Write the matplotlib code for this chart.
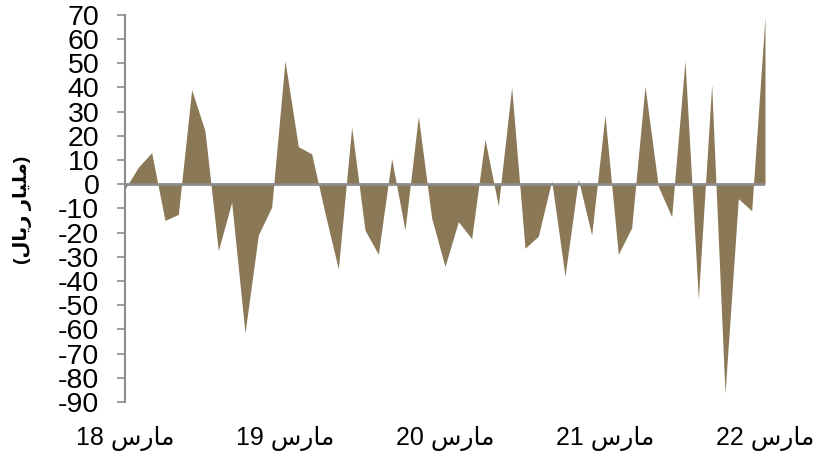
import matplotlib
matplotlib.use('Agg')
import matplotlib.pyplot as plt
import numpy as np

# ---- data (billion riyals, monthly, Mar 2018 .. Mar 2022) ----
values = [-2, 7, 13, -15, -12.5, 39, 22, -27.5, -7.5, -61.5,
          -21, -9.5, 51, 15.5, 12.5, -12, -35, 23.5, -19, -29,
          10.5, -19, 28, -14, -34, -15.5, -22.5, 18.5, -9, 40,
          -26.5, -21.5, 1.5, -38, 2, -21, 28.5, -29, -18, 40.5,
          -1, -13.5, 51, -47.5, 41, -86.5, -6, -11, 69]
tick_years = ["18", "19", "20", "21", "22"]
tick_labels = ["مارس " + y for y in tick_years]
y_label = "(مليار ريال)"
y_ticks = list(range(-90, 71, 10))

# ---- minimal Arabic shaping + visual ordering ----
FORMS = {  # isolated, final, initial, medial
    'ا': ('\uFE8D', '\uFE8E', None, None),
    'ر': ('\uFEAD', '\uFEAE', None, None),
    'س': ('\uFEB1', '\uFEB2', '\uFEB3', '\uFEB4'),
    'م': ('\uFEE1', '\uFEE2', '\uFEE3', '\uFEE4'),
    'ل': ('\uFEDD', '\uFEDE', '\uFEDF', '\uFEE0'),
    'ي': ('\uFEF1', '\uFEF2', '\uFEF3', '\uFEF4'),
}
DUAL = {'س', 'م', 'ل', 'ي'}


def shape(word):
    out = []
    for i, ch in enumerate(word):
        if ch not in FORMS:
            out.append(ch)
            continue
        prev = word[i - 1] if i > 0 else ''
        nxt = word[i + 1] if i + 1 < len(word) else ''
        jp = prev in DUAL
        jn = ch in DUAL and nxt in FORMS
        iso, fin, ini, med = FORMS[ch]
        if jp and jn:
            out.append(med)
        elif jp:
            out.append(fin)
        elif jn:
            out.append(ini)
        else:
            out.append(iso)
    return ''.join(out)


def visual(text):
    mirror = {'(': ')', ')': '('}
    tokens = text.split(' ')
    vis_tokens = []
    for t in tokens:
        if any(c in FORMS for c in t):
            s = shape(t)[::-1]
            s = ''.join(mirror.get(c, c) for c in s)
        else:
            s = t
        vis_tokens.append(s)
    return ' '.join(vis_tokens[::-1])


FONT = ['Liberation Sans', 'DejaVu Sans']
plt.rcParams['font.family'] = FONT

fig = plt.figure(figsize=(8.13, 4.59), dpi=100)
ax = fig.add_axes([125 / 813, 1 - 402 / 459, 640 / 813, (402 - 14.7) / 459])

months = np.arange(len(values))
ax.fill_between(months, values, 0, color='#8B7856', linewidth=0, zorder=2)
ax.axhline(0, color='#8C8C8C', linewidth=2, zorder=3)

ax.set_xlim(0, len(values) - 1)
ax.set_ylim(-90, 70)
ax.set_yticks(y_ticks)
ax.set_yticklabels([str(v) for v in y_ticks], fontsize=20.5)
ax.set_xticks(months[::12])
ax.set_xticklabels([visual(t) for t in tick_labels], fontsize=18)

for s in ['top', 'right', 'bottom']:
    ax.spines[s].set_visible(False)
ax.spines['left'].set_color('#8C8C8C')
ax.spines['left'].set_linewidth(1.5)
ax.tick_params(axis='y', direction='out', length=5.5, width=1.2,
               color='#8C8C8C', pad=13)
ax.tick_params(axis='x', length=0, pad=17)

fig.text(22 / 813, 1 - 210 / 459, visual(y_label), rotation=90,
         ha='center', va='center', fontsize=14, fontweight='bold',
         family=FONT)

fig.savefig('out.png', dpi=100)
